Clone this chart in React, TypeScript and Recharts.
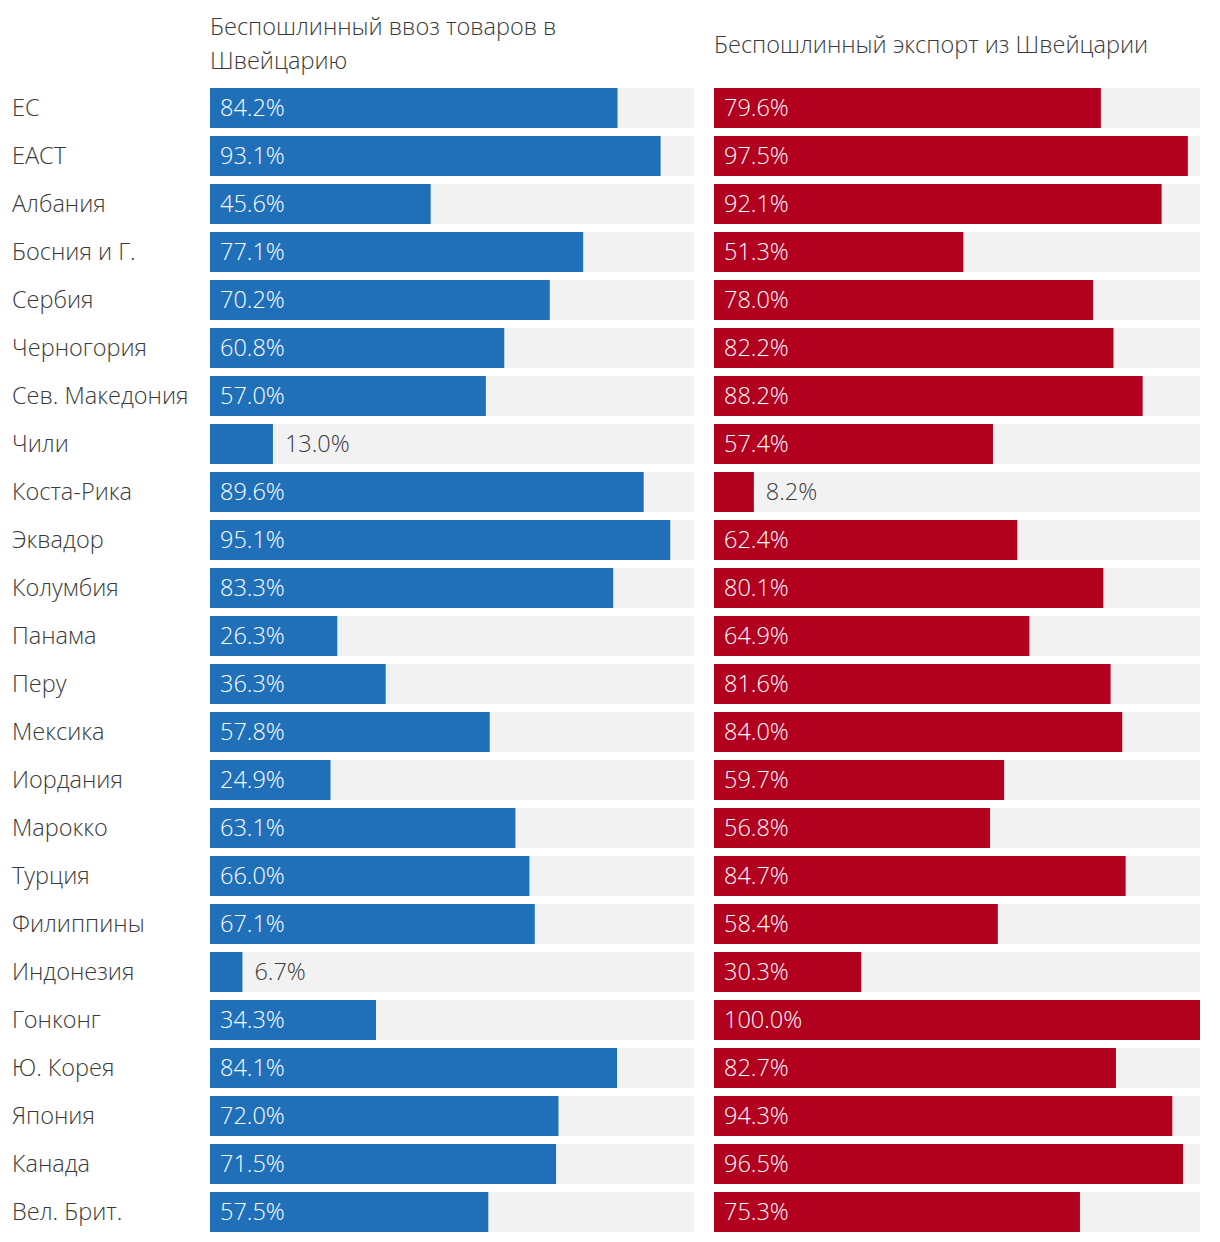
import { BarChart, Bar, XAxis, YAxis, LabelList } from "recharts";

const countries = [
  "ЕС", "ЕАСТ", "Албания", "Босния и Г.", "Сербия", "Черногория", "Сев. Македония",
  "Чили", "Коста-Рика", "Эквадор", "Колумбия", "Панама", "Перу", "Мексика",
  "Иордания", "Марокко", "Турция", "Филиппины", "Индонезия", "Гонконг",
  "Ю. Корея", "Япония", "Канада", "Вел. Брит.",
];
const imports = [
  84.2, 93.1, 45.6, 77.1, 70.2, 60.8, 57.0, 13.0, 89.6, 95.1, 83.3, 26.3,
  36.3, 57.8, 24.9, 63.1, 66.0, 67.1, 6.7, 34.3, 84.1, 72.0, 71.5, 57.5,
];
const exports = [
  79.6, 97.5, 92.1, 51.3, 78.0, 82.2, 88.2, 57.4, 8.2, 62.4, 80.1, 64.9,
  81.6, 84.0, 59.7, 56.8, 84.7, 58.4, 30.3, 100.0, 82.7, 94.3, 96.5, 75.3,
];
const titles = ["Беспошлинный ввоз товаров в Швейцарию", "Беспошлинный экспорт из Швейцарии"];

const FONT = "'Open Sans', sans-serif";
const TEXT = "#3a3a3a";
const TRACK = "#f2f2f2";

const rows = countries.map((name, i) => ({ name, imp: imports[i], exp: exports[i] }));

// value label: white inside the bar, dark after the bar when it is too short
const ValueLabel = (props: any) => {
  const { x, y, width, height, value } = props;
  const inside = value >= 15;
  return (
    <text
      x={inside ? x + 10 : x + width + 12}
      y={y + height / 2 - 1}
      fill={inside ? "#ffffff" : TEXT}
      fontSize={23.5}
      fontWeight={300}
      fontFamily={FONT}
      dominantBaseline="central"
    >
      {value.toFixed(1)}%
    </text>
  );
};

const CountryTick = (props: any) => {
  const { y, payload } = props;
  return (
    <text x={12} y={y - 1} fill={TEXT} fontSize={23.5} fontWeight={300} fontFamily={FONT} dominantBaseline="central">
      {payload.value}
    </text>
  );
};

function Panel({ dataKey, color, withAxis }: { dataKey: string; color: string; withAxis: boolean }) {
  const w = withAxis ? 694 : 486;
  return (
    <BarChart
      width={w}
      height={1152}
      data={rows}
      layout="vertical"
      margin={{ top: 0, right: 0, left: 0, bottom: 0 }}
      barCategoryGap={8}
    >
      <XAxis type="number" domain={[0, 100]} hide />
      <YAxis
        type="category"
        dataKey="name"
        width={withAxis ? 210 : 0}
        hide={!withAxis}
        axisLine={false}
        tickLine={false}
        interval={0}
        tick={<CountryTick />}
      />
      <Bar dataKey={dataKey} fill={color} barSize={40} background={{ fill: TRACK }} isAnimationActive={false}>
        <LabelList dataKey={dataKey} content={<ValueLabel />} />
      </Bar>
    </BarChart>
  );
}

export default function App() {
  const head = {
    position: "absolute" as const,
    fontFamily: FONT,
    fontWeight: 300,
    fontSize: 23.5,
    lineHeight: "34px",
    color: TEXT,
  };
  return (
    <div style={{ position: "absolute", left: 0, top: 0, width: 1220, height: 1242, background: "#fff" }}>
      <div style={{ ...head, left: 210, top: 9, width: 400 }}>{titles[0]}</div>
      <div style={{ ...head, left: 714, top: 27, width: 500 }}>{titles[1]}</div>
      <div style={{ position: "absolute", left: 0, top: 84 }}>
        <Panel dataKey="imp" color="#2070b9" withAxis />
      </div>
      <div style={{ position: "absolute", left: 714, top: 84 }}>
        <Panel dataKey="exp" color="#b2001f" withAxis={false} />
      </div>
    </div>
  );
}
